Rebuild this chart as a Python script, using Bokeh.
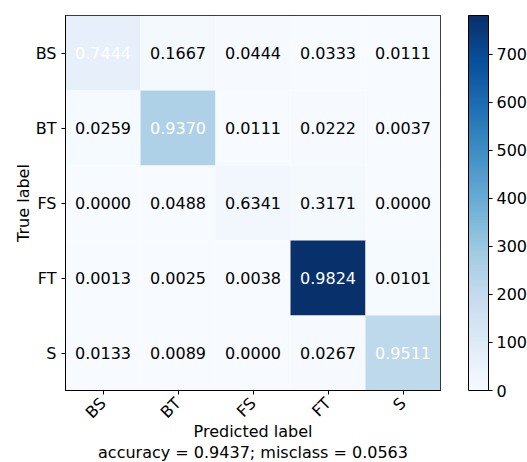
import numpy as np
from bokeh.plotting import figure
from bokeh.models import ColumnDataSource, LinearColorMapper, ColorBar, FixedTicker, FactorRange
from bokeh.palettes import Blues256
from bokeh.core.properties import value
from bokeh.embed import file_html
from bokeh.resources import INLINE

classes = ["BS", "BT", "FS", "FT", "S"]
counts_bs = [67, 15, 4, 3, 1]
counts_bt = [7, 253, 3, 6, 1]
counts_fs = [0, 2, 26, 13, 0]
counts_ft = [1, 2, 3, 781, 8]
counts_s = [3, 2, 0, 6, 214]
cbar_ticks = [0, 100, 200, 300, 400, 500, 600, 700]

cm = np.array([counts_bs, counts_bt, counts_fs, counts_ft, counts_s], dtype=float)
norm = cm / cm.sum(axis=1, keepdims=True)
accuracy = np.trace(cm) / cm.sum()
misclass = 1 - accuracy
thresh = norm.max() / 1.5

xs, ys, cs, ts, tc = [], [], [], [], []
for i, t in enumerate(classes):
    for j, pr in enumerate(classes):
        xs.append(pr)
        ys.append(t)
        cs.append(cm[i, j])
        ts.append(f"{norm[i, j]:.4f}")
        tc.append("white" if norm[i, j] > thresh else "black")
src = ColumnDataSource(dict(x=xs, y=ys, c=cs, t=ts, tc=tc))

FONT = "DejaVu Sans"
mapper = LinearColorMapper(palette=list(reversed(Blues256)), low=0, high=cm.max())

p = figure(frame_width=375, frame_height=375, output_backend="svg", toolbar_location=None,
           x_range=FactorRange(*classes, range_padding=0),
           y_range=FactorRange(*reversed(classes), range_padding=0),
           min_border_left=65, min_border_top=15, min_border_right=0, min_border_bottom=0)
p.rect(x="x", y="y", width=1, height=1, source=src,
       fill_color={"field": "c", "transform": mapper}, line_color=None)
p.text(x="x", y="y", text="t", source=src, text_color="tc",
       text_align="center", text_baseline="middle",
       text_font=value(FONT), text_font_size="16px")

p.xgrid.visible = False
p.ygrid.visible = False
p.outline_line_color = "black"
p.outline_line_alpha = 1
for ax in (p.xaxis[0], p.yaxis[0]):
    ax.axis_line_color = "black"
    ax.major_tick_line_color = "black"
    ax.major_tick_in = 0
    ax.major_tick_out = 4
    ax.minor_tick_line_color = None
    ax.major_label_text_font = FONT
    ax.major_label_text_font_size = "16px"
    ax.major_label_text_color = "black"
    ax.axis_label_text_font = FONT
    ax.axis_label_text_font_size = "16px"
    ax.axis_label_text_font_style = "normal"
    ax.axis_label_text_color = "black"

p.xaxis.major_label_orientation = np.pi / 4
p.xaxis.major_label_text_align = "center"
p.xaxis.major_label_standoff = 6
p.xaxis.axis_label = f"Predicted label\naccuracy = {accuracy:.4f}; misclass = {misclass:.4f}"
p.xaxis.axis_label_standoff = -10
p.xaxis.axis_label_text_line_height = 1.1
p.yaxis.axis_label = "True label"
p.yaxis.axis_label_standoff = 0

cb = ColorBar(color_mapper=mapper, ticker=FixedTicker(ticks=cbar_ticks), width=20,
              height=375, padding=0, location=(28, 0), bar_line_color="black",
              major_tick_in=0, major_tick_out=4, major_tick_line_color="black",
              minor_tick_line_color=None,
              major_label_text_font=FONT, major_label_text_font_size="16px",
              major_label_text_color="black", label_standoff=4)
p.add_layout(cb, "right")

open("out.html", "w").write(file_html(p, INLINE))
